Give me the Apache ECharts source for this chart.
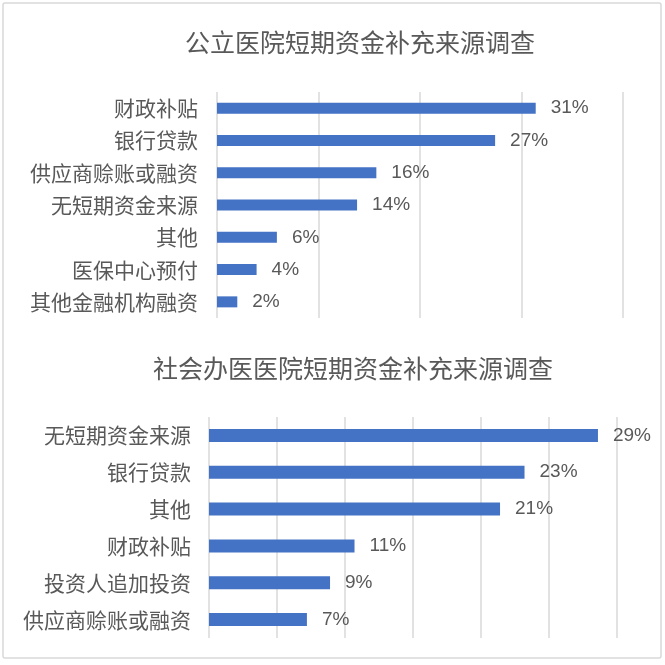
<!DOCTYPE html>
<html>
<head>
<meta charset="utf-8">
<script src="https://cdn.jsdelivr.net/npm/echarts@6/dist/echarts.min.js"></script>
<style>
html,body{margin:0;padding:0;background:#fff;}
#c{width:665px;height:665px;}
</style>
</head>
<body>
<div id="c"></div>
<script>
const title1 = '公立医院短期资金补充来源调查';
const categories1 = ['财政补贴', '银行贷款', '供应商赊账或融资', '无短期资金来源', '其他', '医保中心预付', '其他金融机构融资'];
const values1 = [31.4, 27.4, 15.7, 13.8, 5.9, 3.9, 2.0];
const axisMax1 = 40;
const axisStep1 = 10;

const title2 = '社会办医医院短期资金补充来源调查';
const categories2 = ['无短期资金来源', '银行贷款', '其他', '财政补贴', '投资人追加投资', '供应商赊账或融资'];
const values2 = [28.6, 23.2, 21.4, 10.7, 8.9, 7.2];
const axisMax2 = 30;
const axisStep2 = 5;

const CJK = '"Noto Sans CJK SC", "Noto Sans", sans-serif';
const NUM = '"Liberation Sans", "Noto Sans", sans-serif';
const textColor = '#595959';
const gridColor = '#d9d9d9';
const barColor = '#4472C4';

const chart = echarts.init(document.getElementById('c'), null, {renderer: 'canvas'});

function valueAxis(gridIndex, max, step) {
  return {
    type: 'value', gridIndex: gridIndex, min: 0, max: max, interval: step,
    axisLabel: {show: false}, axisLine: {show: false}, axisTick: {show: false},
    splitLine: {show: true, lineStyle: {color: gridColor, width: 1.5}}
  };
}
function catAxis(gridIndex, cats, margin) {
  return {
    type: 'category', gridIndex: gridIndex, data: cats, inverse: true,
    axisLine: {show: false}, axisTick: {show: false},
    axisLabel: {color: textColor, fontFamily: CJK, fontSize: 21, margin: margin}
  };
}
function barSeries(idx, vals, width) {
  return {
    type: 'bar', xAxisIndex: idx, yAxisIndex: idx, data: vals, barWidth: width,
    itemStyle: {color: barColor},
    label: {
      show: true, position: 'right', distance: 15, color: textColor,
      fontFamily: NUM, fontSize: 19,
      formatter: p => Math.round(p.value) + '%'
    },
    silent: true, animation: false
  };
}

chart.setOption({
  animation: false,
  backgroundColor: '#ffffff',
  grid: [
    {left: 217, top: 92, width: 406, height: 226},
    {left: 209, top: 417, width: 408, height: 221}
  ],
  xAxis: [valueAxis(0, axisMax1, axisStep1), valueAxis(1, axisMax2, axisStep2)],
  yAxis: [catAxis(0, categories1, 19), catAxis(1, categories2, 18)],
  series: [barSeries(0, values1, 11), barSeries(1, values2, 13)],
  graphic: [
    {type: 'rect', shape: {x: 3, y: 3, width: 658, height: 655, r: 2},
     style: {fill: 'none', stroke: '#d9d9d9', lineWidth: 1.5}, silent: true},
    {type: 'text', x: 360, y: 42,
     style: {text: title1, fill: textColor, font: '25px ' + CJK, textAlign: 'center', textVerticalAlign: 'middle'}},
    {type: 'text', x: 353, y: 368,
     style: {text: title2, fill: textColor, font: '25px ' + CJK, textAlign: 'center', textVerticalAlign: 'middle'}}
  ]
});
</script>
</body>
</html>
